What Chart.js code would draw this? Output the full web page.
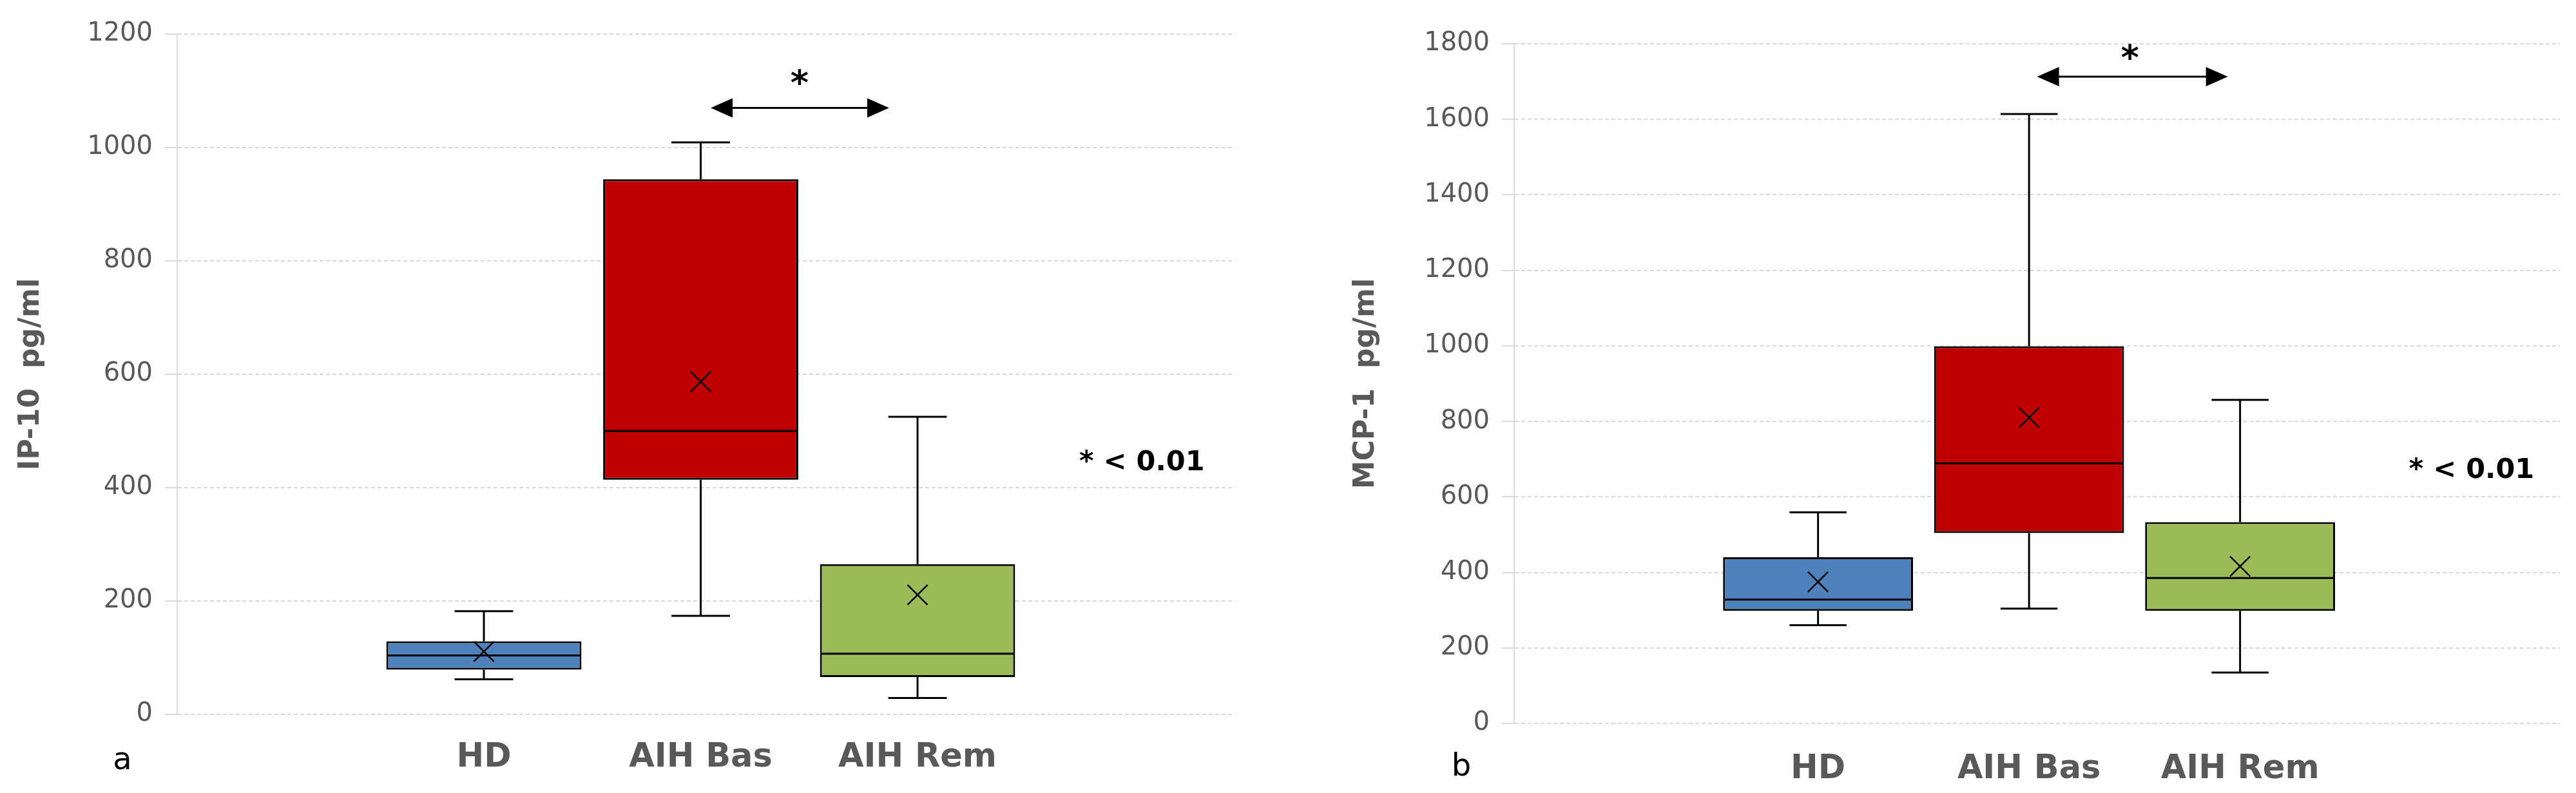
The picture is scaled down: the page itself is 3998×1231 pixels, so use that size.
<!DOCTYPE html>
<html>
<head>
<meta charset="utf-8">
<script src="https://cdn.jsdelivr.net/npm/chart.js@4.4.1/dist/chart.umd.min.js"></script>
<style>
  html, body { margin: 0; padding: 0; background: #fff; }
  #wrap { position: relative; width: 3998px; height: 1231px; }
  canvas { position: absolute; top: 0; }
  #chartA { left: 0; }
  #chartB { left: 1999px; }
</style>
</head>
<body>
<div id="wrap">
  <canvas id="chartA" width="1999" height="1231"></canvas>
  <canvas id="chartB" width="1999" height="1231"></canvas>
</div>
<script>
// ---- data ----
const groups = ['HD', 'AIH Bas', 'AIH Rem'];
const groupColors = ['#4f81bd', '#c00000', '#9bbb59'];

// panel a : IP-10 pg/ml
const ipMin    = [62, 174, 29];
const ipQ1     = [79, 414, 66];
const ipMedian = [104, 500, 107];
const ipQ3     = [129, 944, 265];
const ipMax    = [182, 1009, 525];
const ipMean   = [111, 587, 211];
const ipTicks  = [0, 200, 400, 600, 800, 1000, 1200];

// panel b : MCP-1 pg/ml
const mcpMin    = [260, 304, 135];
const mcpQ1     = [298, 504, 298];
const mcpMedian = [328, 689, 385];
const mcpQ3     = [440, 999, 533];
const mcpMax    = [559, 1614, 857];
const mcpMean   = [375, 810, 416];
const mcpTicks  = [0, 200, 400, 600, 800, 1000, 1200, 1400, 1600, 1800];

const FONT = "'DejaVu Sans', Verdana, sans-serif";
const GREY = '#595959';

// whiskers, caps and median lines, drawn on top of the boxes
const boxExtras = {
  id: 'boxExtras',
  afterDatasetDraw(chart, args, opts) {
    if (args.index !== 0) return;
    const { ctx, scales: { x, y } } = chart;
    const bars = chart.getDatasetMeta(0).data;
    ctx.save();
    ctx.strokeStyle = '#000';
    ctx.lineWidth = 3;
    opts.min.forEach((lo, i) => {
      const cx = x.getPixelForValue(i + 1);
      const half = bars[i].width / 2;
      const cap = bars[i].width * 0.15;
      const yLo = y.getPixelForValue(lo);
      const yQ1 = y.getPixelForValue(opts.q1[i]);
      const yQ3 = y.getPixelForValue(opts.q3[i]);
      const yHi = y.getPixelForValue(opts.max[i]);
      const yMed = y.getPixelForValue(opts.median[i]);
      ctx.beginPath();
      ctx.moveTo(cx, yQ1); ctx.lineTo(cx, yLo);
      ctx.moveTo(cx - cap, yLo); ctx.lineTo(cx + cap, yLo);
      ctx.moveTo(cx, yQ3); ctx.lineTo(cx, yHi);
      ctx.moveTo(cx - cap, yHi); ctx.lineTo(cx + cap, yHi);
      ctx.moveTo(cx - half + 1, yMed); ctx.lineTo(cx + half - 1, yMed);
      ctx.stroke();
    });
    ctx.restore();
  }
};

// significance arrow, star, p-value note and panel letter
const notes = {
  id: 'notes',
  afterDraw(chart, args, o) {
    const { ctx, scales: { x, y } } = chart;
    ctx.save();
    ctx.fillStyle = '#000';
    ctx.strokeStyle = '#000';
    const ay = y.getPixelForValue(o.arrowY);
    const ax1 = x.getPixelForValue(o.arrowFrom);
    const ax2 = x.getPixelForValue(o.arrowTo);
    const head = 34, hh = 15;
    ctx.lineWidth = 3;
    ctx.beginPath();
    ctx.moveTo(ax1 + head - 4, ay); ctx.lineTo(ax2 - head + 4, ay);
    ctx.stroke();
    ctx.beginPath();
    ctx.moveTo(ax1, ay); ctx.lineTo(ax1 + head, ay - hh); ctx.lineTo(ax1 + head, ay + hh); ctx.closePath();
    ctx.moveTo(ax2, ay); ctx.lineTo(ax2 - head, ay - hh); ctx.lineTo(ax2 - head, ay + hh); ctx.closePath();
    ctx.fill();

    ctx.font = 'bold 54px ' + FONT;
    ctx.textAlign = 'center';
    ctx.textBaseline = 'alphabetic';
    ctx.fillText('*', x.getPixelForValue(o.starX), y.getPixelForValue(o.starY) + 32);

    ctx.font = 'bold 43px ' + FONT;
    ctx.textAlign = 'left';
    ctx.textBaseline = 'middle';
    ctx.fillText('* < 0.01', x.getPixelForValue(o.noteX), y.getPixelForValue(o.noteY));

    ctx.font = '48px ' + FONT;
    ctx.textAlign = 'center';
    ctx.fillText(o.letter, o.letterX, o.letterY);
    ctx.restore();
  }
};

function makeChart(id, cfg) {
  return new Chart(document.getElementById(id), {
    type: 'bar',
    data: {
      datasets: [
        {
          type: 'bar',
          data: cfg.q1.map((q, i) => ({ x: i + 1, y: [q, cfg.q3[i]] })),
          backgroundColor: groupColors,
          borderColor: '#000',
          borderWidth: 3,
          borderSkipped: false,
          categoryPercentage: 1,
          barPercentage: 0.9,
          order: 2
        },
        {
          type: 'scatter',
          data: cfg.mean.map((m, i) => ({ x: i + 1, y: m })),
          pointStyle: 'crossRot',
          pointRadius: 22,
          borderColor: '#000',
          borderWidth: 2.5,
          order: 1
        }
      ]
    },
    options: {
      responsive: false,
      animation: false,
      events: [],
      layout: { padding: cfg.padding },
      plugins: {
        legend: { display: false },
        tooltip: { enabled: false },
        boxExtras: { min: cfg.min, q1: cfg.q1, median: cfg.median, q3: cfg.q3, max: cfg.max },
        notes: cfg.notes
      },
      scales: {
        x: {
          type: 'linear',
          offset: false,
          min: cfg.xMin,
          max: cfg.xMax,
          afterBuildTicks: s => { s.ticks = groups.map((g, i) => ({ value: i + 1 })); },
          afterFit: s => { s.height = cfg.xHeight; },
          grid: { display: false, drawTicks: false, offset: false },
          border: { display: false },
          ticks: {
            callback: v => groups[v - 1],
            maxRotation: 0,
            autoSkip: false,
            padding: cfg.xPad,
            color: GREY,
            font: { family: FONT, size: 51, weight: 'bold', lineHeight: 1.2 }
          }
        },
        y: {
          min: 0,
          max: cfg.ticks[cfg.ticks.length - 1],
          afterBuildTicks: s => { s.ticks = cfg.ticks.map(v => ({ value: v })); },
          afterFit: s => { s.width = cfg.yWidth; },
          grid: { color: '#d9d9d9', lineWidth: 2, drawTicks: true, tickLength: 19, tickColor: '#d9d9d9' },
          border: { display: true, color: '#dcdcdc', width: 2, dash: [6, 4] },
          ticks: {
            callback: v => String(v),
            padding: 19,
            color: GREY,
            font: { family: FONT, size: 40 }
          },
          title: {
            display: true,
            text: cfg.title,
            color: GREY,
            padding: { top: cfg.titlePad, bottom: 0 },
            font: { family: FONT, size: 44, weight: 'bold', lineHeight: 1.2 }
          }
        }
      }
    },
    plugins: [boxExtras, notes]
  });
}

makeChart('chartA', {
  min: ipMin, q1: ipQ1, median: ipMedian, q3: ipQ3, max: ipMax, mean: ipMean, ticks: ipTicks,
  title: 'IP-10  pg/ml',
  xMin: -0.4146, xMax: 4.465,
  padding: { top: 53, right: 82, bottom: 0, left: 0 },
  yWidth: 275, xHeight: 122, xPad: 37, titlePad: 22,
  notes: { arrowY: 1070, arrowFrom: 2.046, arrowTo: 2.869, starX: 2.456, starY: 1130,
           noteX: 3.746, noteY: 443, letter: 'a', letterX: 190, letterY: 1182 }
});

makeChart('chartB', {
  min: mcpMin, q1: mcpQ1, median: mcpMedian, q3: mcpQ3, max: mcpMax, mean: mcpMean, ticks: mcpTicks,
  title: 'MCP-1  pg/ml',
  xMin: -0.44, xMax: 4.517,
  padding: { top: 68, right: 15, bottom: 0, left: 0 },
  yWidth: 351, xHeight: 108, xPad: 41, titlePad: 95,
  notes: { arrowY: 1713, arrowFrom: 2.038, arrowTo: 2.942, starX: 2.478, starY: 1786,
           noteX: 3.80, noteY: 669, letter: 'b', letterX: 269, letterY: 1192 }
});
</script>
</body>
</html>
